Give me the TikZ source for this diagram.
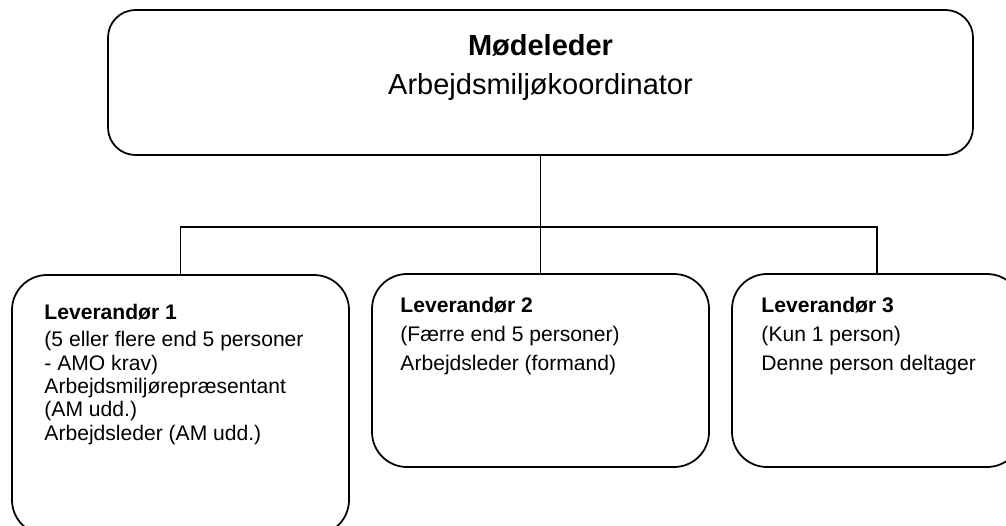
\documentclass[tikz,border=0pt]{standalone}
\usepackage{fontspec}
\setmainfont{Liberation Sans}
\usetikzlibrary{positioning}

\tikzset{
    boks/.style={draw, line width=1pt, rounded corners=0.7cm},
    tekst/.style={inner sep=0pt, align=left, font=\fontsize{12}{13.3}\selectfont},
}

\begin{document}
\begin{tikzpicture}
    % rammen
    \useasboundingbox (0,0) rectangle (20.12,-10.5);
    \clip (0,0) rectangle (20.12,-10.5);

    % kasser
    \node[boks, rounded corners=0.55cm, minimum width=17.30cm, minimum height=2.90cm] (leder) at (10.81,-1.65) {};
    \node[boks, minimum width=6.74cm, minimum height=5.20cm] (lev1) at (3.61,-8.10) {};
    \node[boks, minimum width=6.74cm, minimum height=3.86cm] (lev2) at (10.81,-7.41) {};
    \node[boks, minimum width=5.80cm, minimum height=3.86cm] (lev3) at (17.54,-7.41) {};
    \coordinate (gren) at (10.81,-4.54);

    % forbindelser
    \draw[line width=0.6pt] (leder.south) -- (lev2.north);
    \draw[line width=0.6pt] (lev1.north) |- (gren) -| (lev3.north);

    % tekster
    \node[inner sep=0pt, align=center, anchor=north, font=\fontsize{16.5}{22.2}\selectfont] (tleder)
        at ([yshift=-0.50cm]leder.north) {\textbf{Mødeleder}\\Arbejdsmiljøkoordinator};
    \node[tekst, anchor=north west] (t1) at ([xshift=0.66cm, yshift=-0.60cm]lev1.north west)
        {\textbf{Leverandør 1}\\[2pt](5 eller flere end 5 personer\\- AMO krav)\\Arbejdsmiljørepræsentant\\(AM udd.)\\Arbejdsleder (AM udd.)};
    \node[tekst, anchor=north west, font=\fontsize{12}{16.4}\selectfont] (t2) at ([xshift=0.58cm, yshift=-0.48cm]lev2.north west)
        {\textbf{Leverandør 2}\\(Færre end 5 personer)\\Arbejdsleder (formand)};
    \node[tekst, anchor=north west, font=\fontsize{12}{16.4}\selectfont] (t3) at ([xshift=0.60cm, yshift=-0.48cm]lev3.north west)
        {\textbf{Leverandør 3}\\(Kun 1 person)\\Denne person deltager};

\end{tikzpicture}
\end{document}
